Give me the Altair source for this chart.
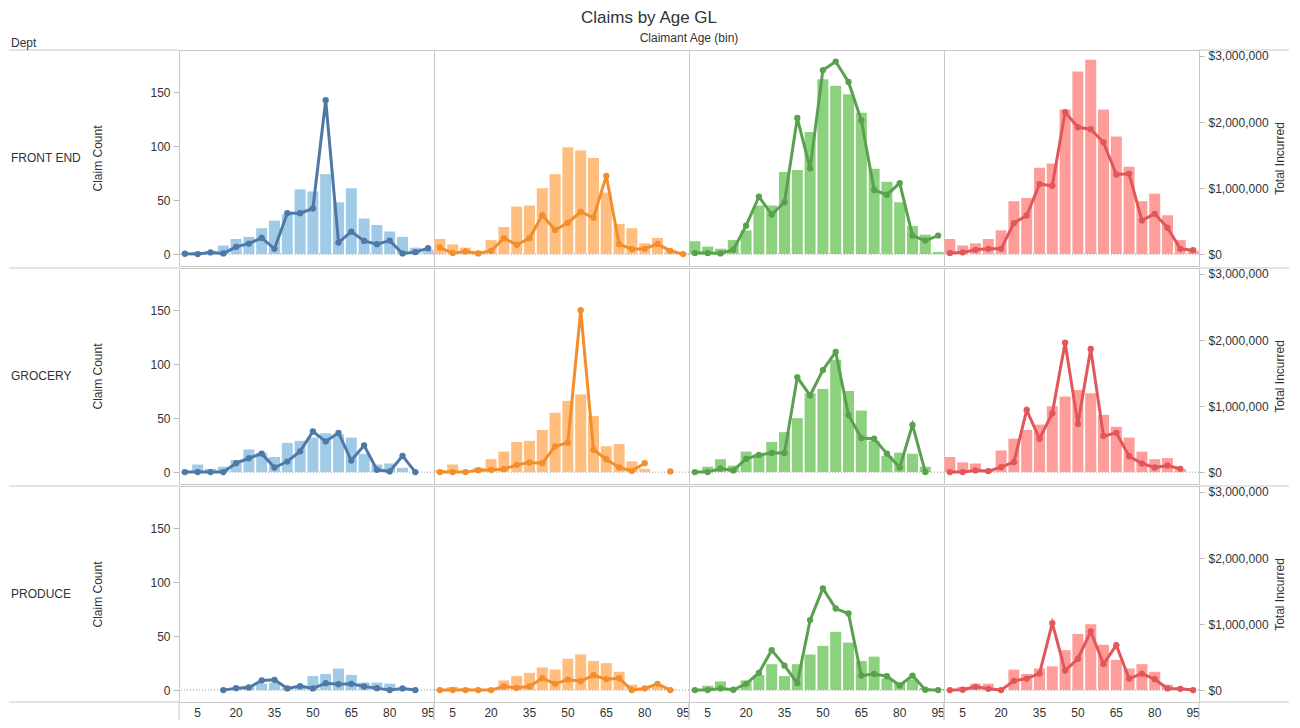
import altair as alt
import pandas as pd

# ---------------- data ----------------
ages = list(range(0, 100, 5))
depts = ["FRONT END", "GROCERY", "PRODUCE"]
groups = ["Group 1", "Group 2", "Group 3", "Group 4"]
bar_colors = ["#A0CBE8", "#FFBE7D", "#8CD17D", "#FF9D9A"]
line_colors = ["#4E79A7", "#F28E2B", "#59A14F", "#E15759"]

# Claim counts (bars), one list per colour group, bins 0..95
claims_front_end = [
    [1, 2, 3, 8, 14, 16, 24, 31, 37, 60, 58, 74, 48, 61, 33, 27, 21, 16, 6, 4],
    [14, 9, 6, 3, 13, 25, 44, 45, 61, 74, 99, 96, 89, 57, 28, 24, 10, 15, 4, 1],
    [12, 7, 5, 13, 22, 45, 45, 76, 78, 113, 162, 156, 148, 131, 79, 67, 48, 26, 18, 2],
    [14, 8, 10, 14, 22, 49, 52, 80, 84, 134, 169, 180, 134, 109, 81, 49, 56, 36, 13, 3],
]
claims_grocery = [
    [None, 7, 3, 5, 11, 21, 18, 14, 27, 29, 32, 36, 35, 32, 17, 7, 8, 4, None, None],
    [2, 7, 1, 4, 12, 19, 28, 29, 39, 55, 66, 72, 52, 24, 26, 10, 3, None, None, None],
    [None, 5, 12, 6, 19, 17, 28, 37, 50, 73, 77, 104, 75, 57, 29, 15, 18, 17, 5, None],
    [14, 9, 8, 2, 20, 31, 39, 44, 61, 70, 76, 73, 53, 42, 32, 19, 12, 13, 3, None],
]
claims_produce = [
    [None, None, None, None, 1, 4, 6, 7, 2, 3, 13, 15, 20, 14, 7, 7, 6, 1, None, None],
    [1, 3, 2, 1, 0, 9, 13, 16, 21, 19, 29, 33, 27, 25, 17, 5, 2, 3, 1, None],
    [None, 4, 8, 1, 9, 14, 24, 13, 24, 33, 41, 54, 44, 27, 31, 11, 7, 10, 2, 1],
    [None, 3, 6, 6, 0, 19, 15, 20, 22, 37, 52, 61, 42, 28, 20, 24, 17, 5, 2, None],
]

# Total incurred (lines), one list per colour group, bins 0..95
incurred_front_end = [
    [5000, 0, 25000, 10000, 110000, 160000, 245000, 80000, 620000, 620000, 690000,
     2330000, 175000, 340000, 200000, 150000, 205000, 10000, 30000, 90000],
    [100000, 15000, 40000, 10000, 50000, 240000, 140000, 240000, 590000, 365000, 475000,
     640000, 550000, 1185000, 150000, 75000, 80000, 155000, 50000, 0],
    [15000, 15000, 10000, 65000, 430000, 870000, 600000, 785000, 2060000, 1295000, 2785000,
     2915000, 2607000, 2025000, 970000, 900000, 1075000, 280000, 205000, 280000],
    [15000, 25000, 65000, 80000, 80000, 470000, 585000, 1060000, 1035000, 2150000, 1920000,
     1890000, 1690000, 1205000, 1215000, 510000, 610000, 400000, 80000, 60000],
]
incurred_grocery = [
    [0, 0, 0, 0, 135000, 210000, 280000, 70000, 160000, 315000, 615000,
     465000, 595000, 175000, 405000, 35000, 10000, 245000, 0, None],
    [0, 0, 0, 30000, 35000, 45000, 110000, 145000, 135000, 390000, 445000,
     2450000, 340000, 195000, 70000, 20000, 135000, None, 10000, None],
    [0, 0, 55000, 25000, 200000, 260000, 290000, 290000, 1435000, 1160000, 1545000,
     1820000, 865000, 515000, 505000, 280000, 70000, 715000, 0, None],
    [0, 0, 25000, 15000, 75000, 150000, 940000, 505000, 890000, 1960000, 730000,
     1865000, 545000, 595000, 240000, 130000, 70000, 100000, 50000, None],
]
incurred_produce = [
    [None, None, None, 0, 30000, 40000, 145000, 155000, 25000, 60000, 25000,
     105000, 90000, 95000, 55000, 30000, 0, 25000, 0, None],
    [0, 0, 0, 0, 0, 55000, 35000, 55000, 180000, 95000, 160000,
     135000, 225000, 165000, 180000, 0, 25000, 95000, 0, None],
    [0, 0, 25000, 5000, 95000, 260000, 605000, 370000, 105000, 1060000, 1540000,
     1235000, 1160000, 220000, 245000, 210000, 70000, 220000, 5000, 0],
    [0, 5000, 50000, 20000, 0, 140000, 175000, 250000, 1015000, 295000, 475000,
     890000, 395000, 680000, 175000, 250000, 165000, 25000, 20000, 0],
]

claims_by_dept = [claims_front_end, claims_grocery, claims_produce]
incurred_by_dept = [incurred_front_end, incurred_grocery, incurred_produce]

records = []
for d, cl_d, inc_d in zip(depts, claims_by_dept, incurred_by_dept):
    for g, cl, inc in zip(groups, cl_d, inc_d):
        seg = 0
        for a, c, v in zip(ages, cl, inc):
            if v is None:
                seg += 1
            records.append({"dept": d, "grp": g, "age": a, "claims": c,
                            "incurred": v, "seg": seg})
df = pd.DataFrame(records)
zero_df = pd.DataFrame({"z": [0]})
one = pd.DataFrame({"k": [0]})

# ---------------- layout ----------------
W, H = 255, 216
CNT_DOM = [-11, 189]
INC_DOM = [-180000, 3090000]
BORDER = "#c8c8c8"
TXT = "#333333"
FONT = "Liberation Sans"


def hrule(x1, x2, y):
    return alt.Chart(one).mark_rule(color=BORDER, strokeWidth=1).encode(
        x=alt.value(x1), x2=alt.value(x2), y=alt.value(y))


def vrule(x, y1, y2):
    return alt.Chart(one).mark_rule(color=BORDER, strokeWidth=1).encode(
        x=alt.value(x), y=alt.value(y1), y2=alt.value(y2))


def label(txt, x, y, align="left", size=12):
    return alt.Chart(one).mark_text(text=txt, align=align, baseline="middle",
                                    fontSize=size, color=TXT, font=FONT).encode(
        x=alt.value(x), y=alt.value(y))


def panel(r, c):
    d, g = depts[r], groups[c]
    base = alt.Chart(df).transform_filter(
        (alt.datum.dept == d) & (alt.datum.grp == g))

    if r == 2:
        xaxis = alt.Axis(title=None, labelAngle=0, ticks=False, domain=False, grid=False,
                         labelExpr="datum.value % 15 == 5 ? datum.label : ''",
                         labelFontSize=12, labelColor=TXT, labelPadding=5)
    else:
        xaxis = None
    x = alt.X("age:O", sort=ages,
              scale=alt.Scale(domain=ages, paddingInner=0.14, paddingOuter=0.03),
              axis=xaxis)

    if c == 0:
        laxis = alt.Axis(title="Claim Count", values=[0, 50, 100, 150], grid=False,
                         domain=False, tickSize=6, tickColor="#bbbbbb", labelPadding=3,
                         labelFontSize=12, labelColor=TXT, titleFontSize=12,
                         titleFontWeight="normal", titleColor=TXT, titlePadding=45)
    else:
        laxis = None
    if c == 3:
        raxis = alt.Axis(orient="right", title="Total Incurred",
                         values=[0, 1000000, 2000000, 3000000], format="$,.0f",
                         grid=False, domain=False, tickSize=5, tickColor="#bbbbbb",
                         labelPadding=4, labelFontSize=12, labelColor=TXT,
                         titleFontSize=12, titleFontWeight="normal", titleColor=TXT,
                         titleAngle=270, titleBaseline="top", titlePadding=6)
    else:
        raxis = None

    cnt_scale = alt.Scale(domain=CNT_DOM, nice=False, zero=False)
    inc_scale = alt.Scale(domain=INC_DOM, nice=False, zero=False)

    bars = base.mark_bar(color=bar_colors[c]).encode(
        x=x, y=alt.Y("claims:Q", scale=cnt_scale, axis=laxis), y2=alt.datum(0))
    zero = alt.Chart(zero_df).mark_rule(color="#9a9a9a", strokeDash=[1, 2],
                                        strokeWidth=1).encode(
        y=alt.Y("z:Q", scale=cnt_scale, axis=laxis))
    line = base.mark_line(color=line_colors[c], strokeWidth=3).encode(
        x=x, y=alt.Y("incurred:Q", scale=inc_scale, axis=raxis), detail="seg:N")
    pts = base.mark_circle(color=line_colors[c], size=40, opacity=1).encode(
        x=x, y=alt.Y("incurred:Q", scale=inc_scale, axis=raxis))

    layers = [alt.layer(zero, bars), alt.layer(line, pts)]
    if c == 0:
        layers += [hrule(-170, 0, 0), label(d, -168, H / 2)]
        if r == 2:
            layers.append(hrule(-170, 0, H))
        if r == 0:
            layers.append(label("Dept", -168, -7))
    if c == 3:
        layers.append(hrule(W, W + 90, 0))
        if r == 2:
            layers.append(hrule(W, W + 90, H))
    if r == 0 and c == 2:
        layers.append(label("Claimant Age (bin)", 0, -12, align="center", size=12))
    if r == 2:
        layers += [vrule(0, H, H + 18), vrule(W, H, H + 18)]

    return alt.layer(*layers).resolve_scale(y="independent").properties(width=W, height=H)


rows = [alt.hconcat(*[panel(r, c) for c in range(4)], spacing=0, bounds="flush")
        for r in range(3)]

chart = alt.vconcat(*rows, spacing=0).properties(
    title=alt.Title("Claims by Age GL", fontSize=17, fontWeight="normal", color=TXT,
                    anchor="middle", offset=5, font=FONT),
    padding={"left": 0, "top": 0, "right": 0, "bottom": 0},
).configure(font=FONT).configure_view(stroke=BORDER, strokeWidth=1)

chart.save("out.html", embed_options={"renderer": "svg", "actions": False})
